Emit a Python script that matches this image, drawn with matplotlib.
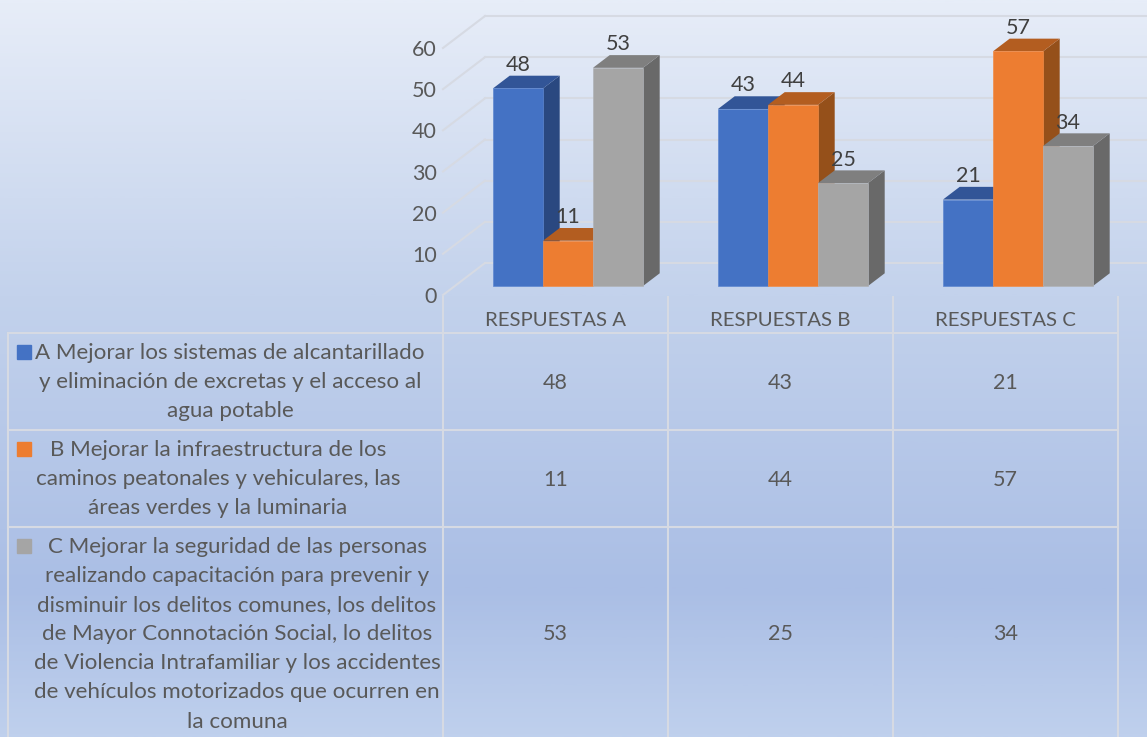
import numpy as np
import matplotlib
matplotlib.use("Agg")
import matplotlib.pyplot as plt
from matplotlib.colors import LinearSegmentedColormap
from matplotlib.patches import Polygon, Rectangle

plt.rcParams["font.family"] = ["Lato", "DejaVu Sans"]

categories = ["RESPUESTAS A", "RESPUESTAS B", "RESPUESTAS C"]
serie_a = [48, 43, 21]
serie_b = [11, 44, 57]
serie_c = [53, 25, 34]
yticks = [0, 10, 20, 30, 40, 50, 60]

rows = [
    ["A Mejorar los sistemas de alcantarillado",
     "y eliminación de excretas y el acceso al",
     "agua potable"],
    ["B Mejorar la infraestructura de los",
     "caminos peatonales y vehiculares, las",
     "áreas verdes y la luminaria"],
    ["C Mejorar la seguridad de las personas",
     "realizando capacitación para prevenir y",
     "disminuir los delitos comunes, los delitos",
     "de Mayor Connotación Social, lo delitos",
     "de Violencia Intrafamiliar y los accidentes",
     "de vehículos motorizados que ocurren en",
     "la comuna"],
]

W, H = 1147, 737
fig = plt.figure(figsize=(W / 100, H / 100), dpi=100)

# --- pixel layer: background and table ---
bg = fig.add_axes([0, 0, 1, 1])
bg.set_xlim(0, W)
bg.set_ylim(H, 0)
bg.axis("off")

cmap = LinearSegmentedColormap.from_list("fondo", [
    (0.0, "#e7edf8"), (0.40, "#c3d2ec"), (0.80, "#aabee5"), (1.0, "#bfd0ed")])
grad = np.linspace(0, 1, 400).reshape(-1, 1)
bg.imshow(grad, cmap=cmap, extent=[0, W, H, 0], aspect="auto", zorder=0)

grid_col = "#d6dae3"
txt_col = "#595959"
fs_cat = 14.7
fs_table = 16.1
fs_num = 15.5

col_edges = [443, 668, 893, 1118]
row_edges = [333, 430, 527, 737]
for x in col_edges:
    bg.plot([x, x], [297, H], color=grid_col, lw=1.5, zorder=1)
bg.plot([8, 8], [333, H], color=grid_col, lw=1.5, zorder=1)
for y in row_edges[:-1]:
    bg.plot([8, 1118], [y, y], color=grid_col, lw=1.5, zorder=1)

centers = [(col_edges[i] + col_edges[i + 1]) / 2 for i in range(3)]
for c, name in zip(centers, categories):
    bg.text(c, 320.5, name, ha="center", va="center", fontsize=fs_cat, color=txt_col)

row_vals = [serie_a, serie_b, serie_c]
row_cols = ["#4472C4", "#ED7D31", "#A5A5A5"]
line_x = [230, 218, 237]
line_y0 = [353, 449.5, 547]
swatch_y = [345, 442, 539]
for r in range(3):
    bg.add_patch(Rectangle((17, swatch_y[r]), 14, 14, color=row_cols[r], zorder=2))
    for i, line in enumerate(rows[r]):
        bg.text(line_x[r], line_y0[r] + i * 29.1, line, ha="center", va="center",
                fontsize=fs_table, color=txt_col)
    ymid = (row_edges[r] + row_edges[r + 1]) / 2 + 1.5
    for c, v in zip(centers, row_vals[r]):
        bg.text(c, ymid, str(v), ha="center", va="center", fontsize=fs_num, color=txt_col)

# --- chart layer: x in category units, y in data values ---
px_unit = 247 / 60  # pixels per value
ax = fig.add_axes([443 / W, 1 - 286 / H, 675 / W, 247 / H])
ax.set_xlim(0, 3)
ax.set_ylim(0, 60)
ax.axis("off")
ax.patch.set_alpha(0)

px_x = 225.0  # pixels per category
floor_front = -9 / px_unit
floor_back = 23 / px_unit
wall_dx = 42 / px_x
for v in yticks:
    ax.plot([0, wall_dx], [v + floor_front, v + floor_back], color=grid_col, lw=1.5,
            clip_on=False, zorder=1)
    ax.plot([wall_dx, (W - 443) / px_x], [v + floor_back, v + floor_back], color=grid_col,
            lw=1.5, clip_on=False, zorder=1)
    bg.text(437, 297 - v * px_unit, str(v), ha="right", va="center", fontsize=fs_num,
            color=txt_col)

bar_w = 50 / px_x
dep_x = 16.7 / px_x
dep_y = 12.7 / px_unit
first = 50 / px_x
colors = [("#4472C4", "#325597", "#2A4880"),
          ("#ED7D31", "#B35D20", "#95501A"),
          ("#A5A5A5", "#7F7F7F", "#696969")]
edges = ["#5f88d0", "#f08c48", "#b0b3b8"]

z = 3
for k in range(3):
    for s, vals in enumerate(row_vals):
        v = vals[k]
        x0 = k + first + s * bar_w
        x1 = x0 + bar_w
        front, top, side = colors[s]
        ax.add_patch(Polygon([(x1, 0), (x1 + dep_x, dep_y), (x1 + dep_x, v + dep_y), (x1, v)],
                             facecolor=side, edgecolor="none", zorder=z, clip_on=False))
        ax.add_patch(Polygon([(x0, v), (x0 + dep_x, v + dep_y), (x1 + dep_x, v + dep_y), (x1, v)],
                             facecolor=top, edgecolor="none", zorder=z, clip_on=False))
        ax.bar(x0, v, width=bar_w, align="edge", color=front, edgecolor=edges[s], linewidth=0.5,
               zorder=z + 0.5, clip_on=False)
        ax.text(x0 + bar_w / 2, v + 23.5 / px_unit, str(v), ha="center", va="center",
                fontsize=fs_num, color="#404040", zorder=20, clip_on=False)
        z += 1

fig.savefig("out.png", dpi=100)
